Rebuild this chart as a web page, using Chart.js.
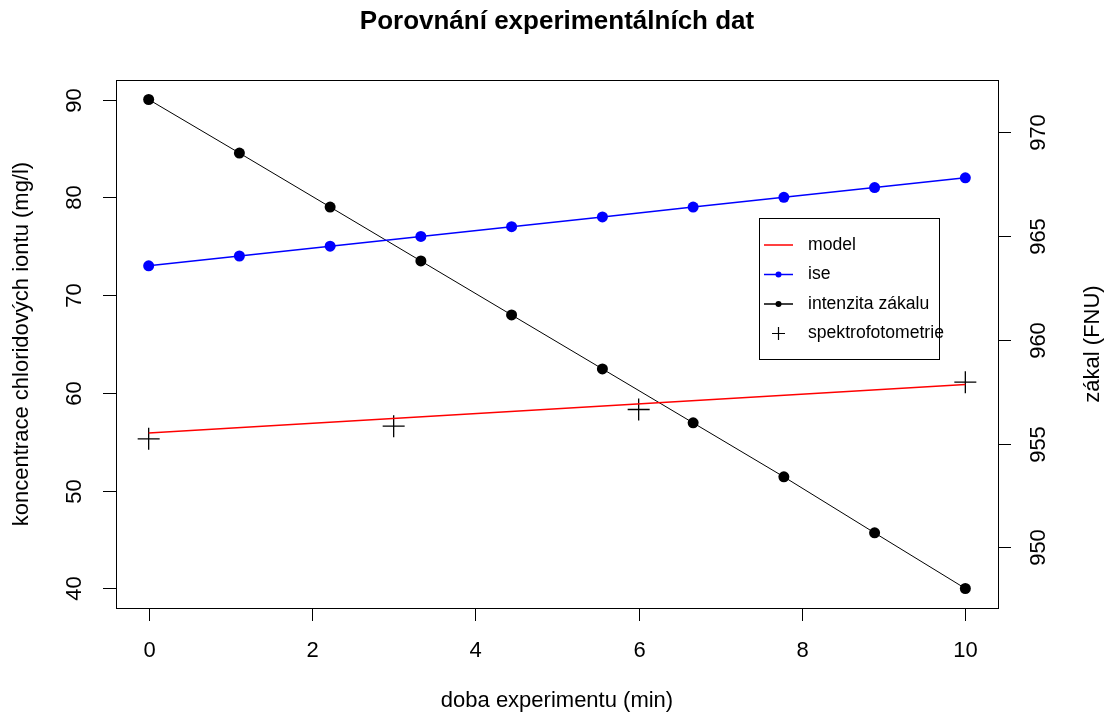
<!DOCTYPE html>
<html>
<head>
<meta charset="utf-8">
<script src="https://cdn.jsdelivr.net/npm/chart.js@4.4.1/dist/chart.umd.min.js"></script>
<style>
  html, body { margin: 0; padding: 0; background: #fff; }
  #wrap { width: 1106px; height: 714px; }
</style>
</head>
<body>
<div id="wrap"><canvas id="c"></canvas></div>
<script>
// values
const casy = [0, 1.111, 2.222, 3.333, 4.444, 5.556, 6.667, 7.778, 8.889, 10];
const ise = [73, 74, 75, 76, 77, 78, 79, 80, 81, 82];
const zakal = [971.58, 969.0, 966.4, 963.8, 961.2, 958.6, 956.0, 953.4, 950.7, 948.02];
const modelX = [0, 10];
const model = [55.9, 60.85];
const spektroX = [0, 3, 6, 10];
const spektro = [55.3, 56.6, 58.3, 61.1];

const xTicks = [0, 2, 4, 6, 8, 10];
const yTicks = [40, 50, 60, 70, 80, 90];
const y1Ticks = [950, 955, 960, 965, 970];

const pts = (xs, ys) => xs.map((x, i) => ({ x, y: ys[i] }));
const FONT = '"Liberation Sans", Arial, sans-serif';

const legendItems = [
    { label: 'model', color: '#ff0000', line: true, dot: false },
    { label: 'ise', color: '#0000ff', line: true, dot: true },
    { label: 'intenzita zákalu', color: '#000000', line: true, dot: true },
    { label: 'spektrofotometrie', color: '#000000', line: false, plus: true }
];

const rStyle = {
    id: 'rStyle',
    afterDraw(chart) {
        const ctx = chart.ctx;
        const a = chart.chartArea;
        const sx = chart.scales.x, sy = chart.scales.y, sy1 = chart.scales.y1;
        ctx.save();
        ctx.strokeStyle = '#000';
        ctx.fillStyle = '#000';
        ctx.lineWidth = 1;
        // box
        ctx.strokeRect(Math.round(a.left) + 0.5, Math.round(a.top) + 0.5,
            Math.round(a.right - a.left), Math.round(a.bottom - a.top));

        ctx.font = '22px ' + FONT;
        // x axis
        ctx.textAlign = 'center';
        ctx.textBaseline = 'middle';
        xTicks.forEach(v => {
            const px = Math.round(sx.getPixelForValue(v)) + 0.5;
            ctx.beginPath();
            ctx.moveTo(px, a.bottom);
            ctx.lineTo(px, a.bottom + 13);
            ctx.stroke();
            ctx.fillText(String(v), px, 651);
        });
        // left y axis
        yTicks.forEach(v => {
            const py = Math.round(sy.getPixelForValue(v)) + 0.5;
            ctx.beginPath();
            ctx.moveTo(a.left, py);
            ctx.lineTo(a.left - 13, py);
            ctx.stroke();
            ctx.save();
            ctx.translate(75, py);
            ctx.rotate(-Math.PI / 2);
            ctx.fillText(String(v), 0, 0);
            ctx.restore();
        });
        // right y axis
        y1Ticks.forEach(v => {
            const py = Math.round(sy1.getPixelForValue(v)) + 0.5;
            ctx.beginPath();
            ctx.moveTo(a.right, py);
            ctx.lineTo(a.right + 13, py);
            ctx.stroke();
            ctx.save();
            ctx.translate(1039, py);
            ctx.rotate(-Math.PI / 2);
            ctx.fillText(String(v), 0, 0);
            ctx.restore();
        });

        // axis titles
        ctx.fillText('doba experimentu (min)', (a.left + a.right) / 2, 701);
        ctx.save();
        ctx.translate(22, (a.top + a.bottom) / 2);
        ctx.rotate(-Math.PI / 2);
        ctx.fillText('koncentrace chloridových iontu (mg/l)', 0, 0);
        ctx.restore();
        ctx.save();
        ctx.translate(1093, (a.top + a.bottom) / 2);
        ctx.rotate(-Math.PI / 2);
        ctx.fillText('zákal (FNU)', 0, 0);
        ctx.restore();

        // title
        ctx.font = 'bold 26px ' + FONT;
        ctx.fillText('Porovnání experimentálních dat', (a.left + a.right) / 2, 22);

        // legend
        const lx = 759, ly = 218, lw = 180, lh = 141;
        ctx.fillStyle = '#fff';
        ctx.fillRect(lx, ly, lw, lh);
        ctx.strokeStyle = '#000';
        ctx.strokeRect(lx + 0.5, ly + 0.5, lw, lh);
        ctx.font = '17.6px ' + FONT;
        ctx.textAlign = 'left';
        legendItems.forEach((it, i) => {
            const y = 245 + i * 29.5;
            ctx.strokeStyle = it.color;
            ctx.fillStyle = it.color;
            if (it.line) {
                ctx.lineWidth = 1.5;
                ctx.beginPath();
                ctx.moveTo(764, y);
                ctx.lineTo(793, y);
                ctx.stroke();
            }
            if (it.dot) {
                ctx.beginPath();
                ctx.arc(778.5, y, 3, 0, Math.PI * 2);
                ctx.fill();
            }
            if (it.plus) {
                ctx.lineWidth = 1.2;
                ctx.beginPath();
                ctx.moveTo(772, y); ctx.lineTo(785, y);
                ctx.moveTo(778.5, y - 6.5); ctx.lineTo(778.5, y + 6.5);
                ctx.stroke();
            }
            ctx.fillStyle = '#000';
            ctx.fillText(it.label, 808, y);
        });
        ctx.restore();
    }
};

new Chart(document.getElementById('c'), {
    type: 'scatter',
    data: {
        datasets: [
            {
                label: 'model',
                data: pts(modelX, model),
                showLine: true,
                borderColor: '#ff0000',
                borderWidth: 1.5,
                pointRadius: 0,
                yAxisID: 'y'
            },
            {
                label: 'ise',
                data: pts(casy, ise),
                showLine: true,
                borderColor: '#0000ff',
                backgroundColor: '#0000ff',
                borderWidth: 1.5,
                pointRadius: 5.5,
                pointBorderWidth: 0,
                yAxisID: 'y'
            },
            {
                label: 'intenzita zákalu',
                data: pts(casy, zakal),
                showLine: true,
                borderColor: '#000000',
                backgroundColor: '#000000',
                borderWidth: 1,
                pointRadius: 5.5,
                pointBorderWidth: 0,
                yAxisID: 'y1'
            },
            {
                label: 'spektrofotometrie',
                data: pts(spektroX, spektro),
                showLine: false,
                pointStyle: 'cross',
                pointRadius: 11,
                borderColor: '#000000',
                pointBorderWidth: 1.3,
                yAxisID: 'y'
            }
        ]
    },
    options: {
        responsive: true,
        maintainAspectRatio: false,
        animation: false,
        layout: { padding: { left: 116, right: 108, top: 80, bottom: 106 } },
        plugins: {
            legend: { display: false },
            title: { display: false },
            tooltip: { enabled: false }
        },
        scales: {
            x: { type: 'linear', min: -0.4, max: 10.4, display: false },
            y: { type: 'linear', min: 38, max: 92, display: false },
            y1: { type: 'linear', position: 'right', min: 947.08, max: 972.52, display: false }
        }
    },
    plugins: [rStyle]
});
</script>
</body>
</html>
